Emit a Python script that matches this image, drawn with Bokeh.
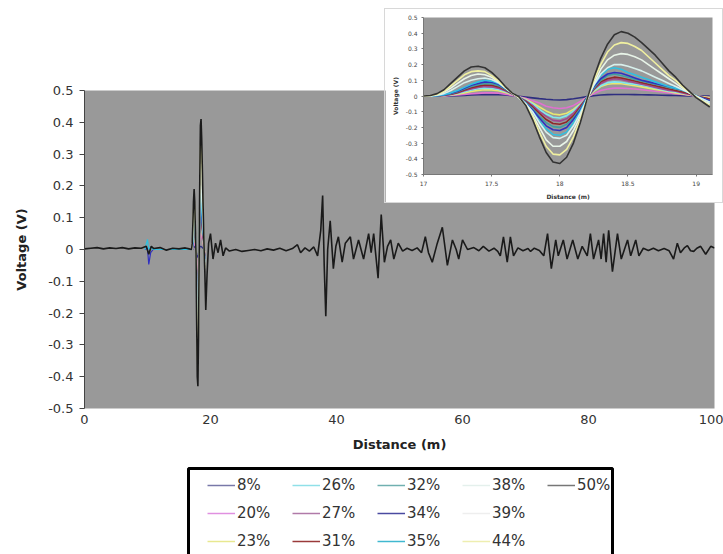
from bokeh.plotting import figure
from bokeh.models import Legend, LegendItem, FixedTicker, Range1d
from bokeh.embed import file_html
from bokeh.resources import INLINE

FONT = "DejaVu Sans"

# ---------------- data ----------------
series_labels = ["8%", "20%", "23%", "26%", "27%", "31%", "32%",
                 "34%", "35%", "38%", "39%", "44%", "50%"]
series_colors = ["#2e2e80", "#e070d0", "#e8e870", "#80e8f0", "#a04890", "#902828", "#40a0a0",
                 "#3030c0", "#30c0e0", "#d8f0ec", "#e8f4e8", "#f0f0a0", "#1a1a1a"]
legend_colors = ["#7878a8", "#e090e0", "#e8e890", "#90e0e8", "#b07aa8", "#9a3a3a", "#70b0b0",
                 "#4a4aa0", "#40b8d0", "#e4f0ec", "#eeeeee", "#eeeeb0", "#777777"]

# full-length trace of the 50% series (distance m, voltage V)
main_dist = [0, 1, 2, 3, 4, 5, 6, 7, 8, 9,
             9.8, 10.2, 10.6, 11, 12, 13, 14, 15, 16, 16.6,
             17.0, 17.1, 17.2, 17.3, 17.4, 17.5, 17.6, 17.7, 17.8, 17.9,
             18.0, 18.1, 18.2, 18.3, 18.4, 18.5, 18.6, 18.7, 18.8, 18.9,
             19.0, 19.1, 19.25, 19.45, 19.7, 20.0, 20.4, 20.8, 21.2, 21.6,
             22.0, 22.4, 23, 24, 25, 26, 27, 28, 29, 30,
             31, 32, 33, 33.8, 34.3, 35, 35.7, 36.4, 37.0, 37.5,
             37.8, 38.05, 38.3, 38.6, 39.0, 39.5, 39.9, 40.3, 40.9, 41.4,
             42.2, 42.7, 43.5, 44.3, 45.1, 45.5, 45.9, 46.6, 47.1, 47.6,
             48.1, 48.6, 49.1, 49.8, 50.5, 51.2, 52, 52.8, 53.5, 54.1,
             54.6, 55.2, 56.0, 56.8, 57.6, 58.4, 59.0, 59.4, 60.0, 60.8,
             61.8, 62.6, 63.3, 64.2, 65.0, 65.6, 66.0, 66.5, 67.1, 67.6,
             68.1, 68.8, 69.6, 70.4, 70.8, 71.4, 72.2, 72.9, 73.5, 74.1,
             74.8, 75.2, 76.0, 76.6, 77.5, 78.3, 79.0, 79.8, 80.3, 80.8,
             81.6, 82.0, 82.4, 82.8, 83.2, 83.8, 84.6, 85.2, 85.7, 86.2,
             86.7, 87.5, 88.0, 88.7, 89.5, 90.3, 91.1, 92.0, 92.8, 93.5,
             94.1, 94.6, 95.2, 95.7, 96.2, 96.7, 97.2, 97.8, 98.6, 99.4, 100]
main_v50 = [0.002, 0.004, 0.006, 0.002, 0.005, 0.003, 0.006, 0.002, 0.005, 0.004,
            0.01, -0.015, 0.01, 0.003, 0.006, -0.002, 0.004, 0.002, 0.005, 0.002,
            0.0, 0.02, 0.08, 0.15, 0.19, 0.15, 0.06, -0.01, -0.22, -0.40,
            -0.43, -0.27, -0.02, 0.22, 0.39, 0.41, 0.35, 0.26, 0.16, 0.07,
            -0.01, -0.07, -0.19, -0.08, 0.02, 0.05, -0.03, 0.02, -0.01, 0.03,
            -0.02, 0.005, -0.005, 0.0, -0.006, -0.003, 0.0, -0.004, 0.002, -0.002,
            0.004, -0.004, 0.003, 0.015, -0.01, 0.005, -0.005, 0.008, -0.02, 0.06,
            0.17, -0.05, -0.21, 0.0, 0.09, -0.06, 0.01, 0.04, -0.04, 0.02,
            0.04, -0.03, 0.03, -0.03, 0.05, -0.01, 0.05, -0.09, 0.11, -0.04,
            0.01, 0.03, -0.03, 0.02, -0.005, 0.004, -0.003, 0.005, -0.01, 0.04,
            -0.01, -0.04, 0.02, 0.07, -0.05, 0.03, 0.0, -0.03, 0.03, 0.0,
            0.006, -0.004, 0.01, -0.005, 0.004, -0.006, -0.02, 0.04, -0.04, 0.04,
            -0.02, 0.005, -0.004, 0.003, -0.006, 0.004, -0.003, -0.02, 0.05, -0.06,
            0.03, -0.02, 0.03, -0.03, 0.03, -0.03, 0.01, -0.02, 0.05, -0.03,
            0.03, -0.03, 0.05, -0.04, 0.06, -0.07, 0.05, -0.03, 0.0, 0.03,
            -0.02, 0.03, -0.02, 0.004, -0.003, 0.004, -0.004, 0.003, -0.004, -0.03,
            0.02, -0.01, 0.005, 0.012, -0.004, -0.006, 0.004, 0.01, -0.015, 0.01, 0.005]

# small precursor event near 10 m (34% and 35% series)
pre_dist = [9.6, 10.0, 10.2, 10.5, 10.9]
pre_v34 = [0.0, 0.004, -0.047, -0.01, 0.0]
pre_v35 = [0.0, 0.032, 0.0, 0.008, 0.0]

# zoomed window 17 - 19.1 m, all series (0.05 m steps)
inset_dist = [17.00, 17.05, 17.10, 17.15, 17.20, 17.25, 17.30, 17.35, 17.40, 17.45,
              17.50, 17.55, 17.60, 17.65, 17.70, 17.75, 17.80, 17.85, 17.90, 17.95,
              18.00, 18.05, 18.10, 18.15, 18.20, 18.25, 18.30, 18.35, 18.40, 18.45,
              18.50, 18.55, 18.60, 18.65, 18.70, 18.75, 18.80, 18.85, 18.90, 18.95,
              19.00, 19.05, 19.10]
v08 = [0, 0, 0, 0, 0.001, 0.002, 0.004, 0.006, 0.008, 0.009,
       0.01, 0.009, 0.006, 0.002, -0.002, -0.007, -0.012, -0.017, -0.021, -0.024,
       -0.025, -0.023, -0.018, -0.011, -0.004, 0.002, 0.006, 0.009, 0.01, 0.01,
       0.01, 0.009, 0.008, 0.007, 0.006, 0.005, 0.004, 0.003, 0.002, 0.001,
       0.0, 0.0, 0.0]
v20 = [0, 0, 0, 0.001, 0.003, 0.006, 0.01, 0.014, 0.017, 0.02,
       0.02, 0.018, 0.012, 0.004, -0.005, -0.015, -0.03, -0.045, -0.065, -0.075,
       -0.08, -0.075, -0.06, -0.035, -0.008, 0.015, 0.035, 0.045, 0.05, 0.05,
       0.048, 0.045, 0.04, 0.035, 0.03, 0.025, 0.02, 0.015, 0.01, 0.005,
       0.0, -0.005, -0.01]
v23 = [0, 0, 0, 0.002, 0.006, 0.012, 0.02, 0.029, 0.036, 0.04,
       0.039, 0.033, 0.022, 0.009, -0.006, -0.02, -0.045, -0.07, -0.095, -0.115,
       -0.12, -0.11, -0.085, -0.05, -0.01, 0.03, 0.06, 0.075, 0.08, 0.078,
       0.072, 0.065, 0.058, 0.05, 0.042, 0.035, 0.028, 0.02, 0.013, 0.006,
       0.0, -0.005, -0.01]
v26 = [0, 0, 0.001, 0.003, 0.008, 0.016, 0.027, 0.038, 0.046, 0.05,
       0.048, 0.041, 0.028, 0.011, -0.007, -0.025, -0.05, -0.085, -0.115, -0.135,
       -0.14, -0.125, -0.095, -0.055, -0.01, 0.035, 0.065, 0.085, 0.09, 0.088,
       0.08, 0.075, 0.068, 0.06, 0.05, 0.04, 0.03, 0.025, 0.018, 0.01,
       0.0, -0.01, -0.02]
v27 = [0, 0, 0.001, 0.004, 0.01, 0.02, 0.033, 0.045, 0.055, 0.06,
       0.058, 0.05, 0.033, 0.013, -0.008, -0.03, -0.06, -0.10, -0.13, -0.155,
       -0.16, -0.145, -0.11, -0.06, -0.01, 0.04, 0.08, 0.10, 0.11, 0.105,
       0.095, 0.085, 0.075, 0.065, 0.055, 0.045, 0.035, 0.03, 0.02, 0.01,
       0.0, -0.01, -0.02]
v31 = [0, 0, 0.001, 0.005, 0.012, 0.023, 0.038, 0.052, 0.063, 0.07,
       0.068, 0.058, 0.038, 0.015, -0.01, -0.035, -0.07, -0.11, -0.15, -0.175,
       -0.18, -0.165, -0.125, -0.07, -0.01, 0.045, 0.09, 0.11, 0.12, 0.115,
       0.105, 0.095, 0.085, 0.075, 0.065, 0.055, 0.045, 0.035, 0.025, 0.015,
       0.0, -0.01, -0.02]
v32 = [0, 0, 0.002, 0.006, 0.015, 0.027, 0.045, 0.06, 0.072, 0.08,
       0.078, 0.066, 0.043, 0.018, -0.01, -0.04, -0.08, -0.13, -0.17, -0.195,
       -0.20, -0.18, -0.14, -0.08, -0.01, 0.05, 0.10, 0.13, 0.14, 0.13,
       0.12, 0.105, 0.095, 0.085, 0.075, 0.065, 0.055, 0.045, 0.035, 0.02,
       0.0, -0.015, -0.03]
v34 = [0, 0, 0.002, 0.007, 0.017, 0.03, 0.05, 0.068, 0.08, 0.09,
       0.088, 0.075, 0.048, 0.02, -0.01, -0.045, -0.09, -0.14, -0.19, -0.215,
       -0.22, -0.20, -0.15, -0.09, -0.01, 0.06, 0.11, 0.14, 0.15, 0.145,
       0.13, 0.115, 0.10, 0.09, 0.08, 0.07, 0.06, 0.05, 0.04, 0.02,
       0.0, -0.015, -0.03]
v35 = [0, 0, 0.002, 0.008, 0.02, 0.035, 0.055, 0.075, 0.09, 0.10,
       0.095, 0.08, 0.05, 0.02, -0.01, -0.05, -0.10, -0.16, -0.21, -0.245,
       -0.25, -0.23, -0.17, -0.10, -0.01, 0.07, 0.13, 0.17, 0.18, 0.17,
       0.15, 0.135, 0.12, 0.105, 0.09, 0.075, 0.06, 0.05, 0.04, 0.02,
       0.0, -0.02, -0.04]
v38 = [0, 0.001, 0.005, 0.015, 0.035, 0.06, 0.085, 0.10, 0.11, 0.115,
       0.105, 0.085, 0.05, 0.02, -0.01, -0.05, -0.10, -0.17, -0.23, -0.265,
       -0.27, -0.25, -0.19, -0.11, -0.02, 0.07, 0.14, 0.18, 0.20, 0.20,
       0.19, 0.175, 0.16, 0.14, 0.12, 0.10, 0.08, 0.06, 0.04, 0.02,
       0.0, -0.02, -0.04]
v39 = [0, 0.002, 0.008, 0.025, 0.05, 0.08, 0.11, 0.13, 0.14, 0.135,
       0.12, 0.09, 0.055, 0.02, -0.01, -0.05, -0.12, -0.20, -0.28, -0.32,
       -0.32, -0.29, -0.22, -0.13, -0.02, 0.08, 0.17, 0.23, 0.26, 0.27,
       0.265, 0.25, 0.23, 0.20, 0.17, 0.14, 0.11, 0.08, 0.05, 0.02,
       -0.005, -0.03, -0.05]
v44 = [0, 0.002, 0.01, 0.03, 0.065, 0.10, 0.135, 0.155, 0.16, 0.155,
       0.13, 0.095, 0.055, 0.02, -0.01, -0.06, -0.13, -0.23, -0.32, -0.37,
       -0.375, -0.34, -0.26, -0.15, -0.02, 0.10, 0.20, 0.28, 0.325, 0.34,
       0.335, 0.315, 0.29, 0.25, 0.21, 0.17, 0.13, 0.10, 0.06, 0.025,
       -0.005, -0.035, -0.06]
v50 = [0, 0.003, 0.015, 0.04, 0.08, 0.12, 0.16, 0.185, 0.19, 0.18,
       0.15, 0.11, 0.06, 0.02, -0.005, -0.06, -0.15, -0.26, -0.36, -0.42,
       -0.43, -0.39, -0.30, -0.17, -0.02, 0.12, 0.24, 0.33, 0.39, 0.41,
       0.40, 0.375, 0.34, 0.30, 0.26, 0.21, 0.16, 0.12, 0.07, 0.03,
       -0.01, -0.04, -0.07]
inset_values = [v08, v20, v23, v26, v27, v31, v32, v34, v35, v38, v39, v44, v50]

ytick_values = [-0.5, -0.4, -0.3, -0.2, -0.1, 0, 0.1, 0.2, 0.3, 0.4, 0.5]
ytick_labels = ["-0.5", "-0.4", "-0.3", "-0.2", "-0.1", "0", "0.1", "0.2", "0.3", "0.4", "0.5"]
xtick_values = [0, 20, 40, 60, 80, 100]
inset_xtick_values = [17, 17.5, 18, 18.5, 19]
inset_xtick_labels = ["17", "17.5", "18", "18.5", "19"]

# ---------------- main chart ----------------
main = figure(width=723, height=554, output_backend="svg", toolbar_location=None,
              x_range=Range1d(0, 100), y_range=Range1d(-0.5, 0.5),
              min_border_left=84, min_border_right=9, min_border_top=90, min_border_bottom=146)
main.background_fill_color = "#999999"
main.border_fill_color = "white"
main.outline_line_color = None
main.grid.visible = False

for lab, col, vals in zip(series_labels, series_colors, inset_values):
    if lab == "50%":
        main.line(main_dist, main_v50, line_color=col, line_width=1.6)
    elif lab == "34%":
        main.line(pre_dist + inset_dist, pre_v34 + vals, line_color=col, line_width=1.2)
    elif lab == "35%":
        main.line(pre_dist + inset_dist, pre_v35 + vals, line_color=col, line_width=1.2)
    else:
        main.line(inset_dist, vals, line_color=col, line_width=1.2)

ya = main.yaxis[0]
ya.ticker = FixedTicker(ticks=ytick_values)
ya.major_label_overrides = dict(zip(ytick_values, ytick_labels))
ya.minor_tick_line_color = None
ya.major_tick_in = 0
ya.major_tick_out = 5
ya.axis_line_color = "#444444"
ya.major_tick_line_color = "#444444"
ya.major_label_text_font = FONT
ya.major_label_text_font_size = "13px"
ya.major_label_text_color = "#333333"
ya.major_label_standoff = 6
ya.axis_label = "Voltage (V)"
ya.axis_label_text_font = FONT
ya.axis_label_text_font_size = "13px"
ya.axis_label_text_font_style = "bold"
ya.axis_label_text_color = "#222222"
ya.axis_label_standoff = 16

xa = main.xaxis[0]
xa.ticker = FixedTicker(ticks=xtick_values)
xa.minor_tick_line_color = None
xa.major_tick_line_color = None
xa.major_tick_in = 0
xa.major_tick_out = 0
xa.axis_line_color = None
xa.major_label_text_font = FONT
xa.major_label_text_font_size = "13px"
xa.major_label_text_color = "#333333"
xa.major_label_standoff = 6
xa.axis_label = "Distance (m)"
xa.axis_label_text_font = FONT
xa.axis_label_text_font_size = "13px"
xa.axis_label_text_font_style = "bold"
xa.axis_label_text_color = "#222222"
xa.axis_label_standoff = 10

# ---------------- legend (own canvas under the chart, box = frame outline) ----------------
leg = figure(width=428, height=100, output_backend="svg", toolbar_location=None,
             x_range=Range1d(0, 1), y_range=Range1d(-1, 1),
             x_axis_location=None, y_axis_location=None, min_border=2,
             styles={"position": "absolute", "left": "186px", "top": "466px", "z-index": "4"})
leg.background_fill_color = "white"
leg.border_fill_color = "white"
leg.outline_line_color = "black"
leg.outline_line_width = 3
leg.grid.visible = False
leg_renderers = []
for lab, col, vals in zip(series_labels, legend_colors, inset_values):
    leg_renderers.append(leg.line(inset_dist, vals, line_color=col, line_width=1.5))
items = [LegendItem(label=lab, renderers=[r]) for lab, r in zip(series_labels, leg_renderers)]
legend = Legend(items=items, location=(19, 14), orientation="vertical", nrows=3,
                glyph_width=28, glyph_height=18, label_height=18, label_width=45,
                label_standoff=2, spacing=10, padding=0, margin=0,
                label_text_font=FONT, label_text_font_size="15px", label_text_color="#333333",
                border_line_color=None, background_fill_alpha=0.0)
leg.add_layout(legend, "center")

# ---------------- inset ----------------
inset = figure(width=337, height=193, output_backend="svg", toolbar_location=None,
               x_range=Range1d(17, 19.12), y_range=Range1d(-0.5, 0.5),
               min_border_left=38, min_border_right=10, min_border_top=8, min_border_bottom=26,
               styles={"position": "absolute", "left": "385px", "top": "9px",
                       "z-index": "5", "outline": "1px solid #d8d8d8"})
inset.background_fill_color = "#999999"
inset.border_fill_color = "white"
inset.outline_line_color = None
inset.grid.visible = False
for lab, col, vals in zip(series_labels, series_colors, inset_values):
    inset.line(inset_dist, vals, line_color=("#333333" if lab == "50%" else col),
               line_width=1.6, line_join="round")

iy = inset.yaxis[0]
iy.ticker = FixedTicker(ticks=ytick_values)
iy.major_label_overrides = dict(zip(ytick_values, ytick_labels))
ix = inset.xaxis[0]
ix.ticker = FixedTicker(ticks=inset_xtick_values)
ix.major_label_overrides = dict(zip(inset_xtick_values, inset_xtick_labels))
for ax in (ix, iy):
    ax.minor_tick_line_color = None
    ax.major_tick_in = 0
    ax.major_tick_out = 2
    ax.axis_line_color = "#777777"
    ax.major_tick_line_color = "#777777"
    ax.major_label_text_font = FONT
    ax.major_label_text_font_size = "6px"
    ax.major_label_text_color = "#444444"
    ax.major_label_standoff = 4
    ax.axis_label_text_font = FONT
    ax.axis_label_text_font_size = "6px"
    ax.axis_label_text_font_style = "bold"
    ax.axis_label_text_color = "#333333"
    ax.axis_label_standoff = 4
iy.axis_label = "Voltage (V)"
ix.axis_label = "Distance (m)"

html = file_html([main, leg, inset], INLINE)
html = html.replace("</head>", "<style>html, body { overflow: hidden; }</style></head>", 1)
open("out.html", "w").write(html)
